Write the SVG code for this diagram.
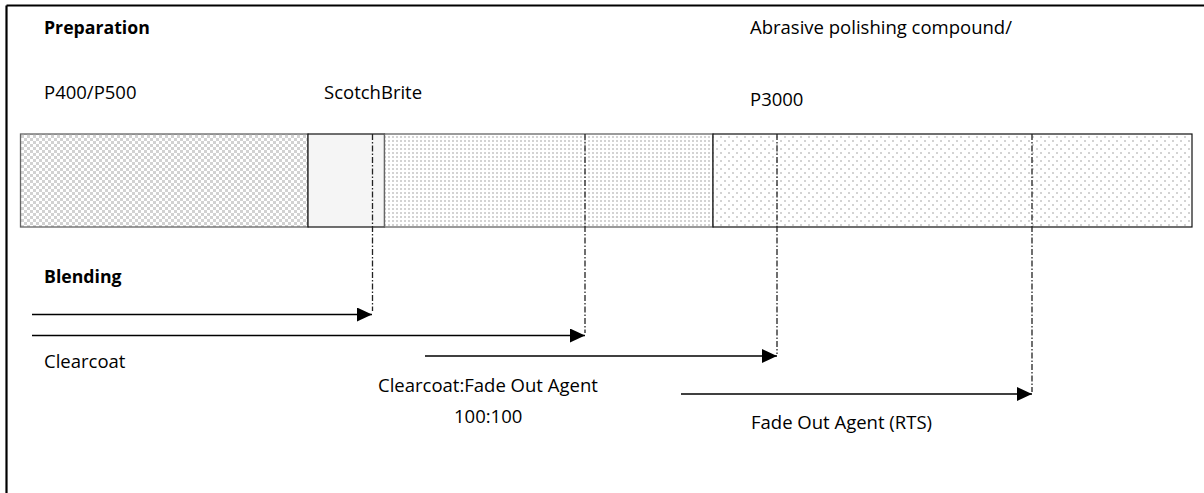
<svg xmlns="http://www.w3.org/2000/svg" width="1204" height="493" viewBox="0 0 1204 493">
<style>
text{font-family:"Open Sans","Liberation Sans",sans-serif;fill:#000}
.r{font-size:18.5px}
.b{font-size:17.7px;font-weight:bold}
.arrow{stroke:#000;stroke-width:1.4;fill:none;marker-end:url(#ah)}
.guide{stroke:#222;stroke-width:1.3;fill:none;stroke-dasharray:6 2 1.5 2}
.seg{stroke:#666;stroke-width:1.3}
.segk{stroke:#111;stroke-width:1.2}
</style>
<defs>
<pattern id="checker" width="6" height="6" patternUnits="userSpaceOnUse">
<rect width="6" height="6" fill="#fff"/>
<rect width="3" height="3" fill="#d2d2d2"/>
<rect x="3" y="3" width="3" height="3" fill="#d2d2d2"/>
</pattern>
<pattern id="dense" width="4" height="4" patternUnits="userSpaceOnUse">
<rect width="4" height="4" fill="#fff"/>
<rect width="2" height="2" fill="#d3d3d3"/>
</pattern>
<pattern id="sparse" width="8" height="8" patternUnits="userSpaceOnUse">
<rect width="8" height="8" fill="#fff"/>
<rect width="2" height="2" fill="#d3d3d3"/>
<rect x="4" y="4" width="2" height="2" fill="#d3d3d3"/>
</pattern>
<marker id="ah" markerUnits="userSpaceOnUse" markerWidth="16" markerHeight="15" refX="15" refY="7" orient="auto">
<path d="M0,0 L15,7 L0,14 z" fill="#000"/>
</marker>
</defs>
<rect width="1204" height="493" fill="#fff"/>
<g id="frame" stroke="#000" stroke-width="2.2">
<line x1="6.5" y1="5.5" x2="1204" y2="5.5"/>
<line x1="6.5" y1="5.5" x2="6.5" y2="493"/>
</g>
<g id="seg-p400">
<rect class="seg" x="20.5" y="134" width="287.5" height="93" fill="url(#checker)"/>
</g>
<g id="seg-scotchbrite">
<rect class="segk" x="308" y="134" width="76.5" height="93" fill="#f5f5f5"/>
</g>
<g id="seg-clear">
<rect class="seg" x="384.5" y="134" width="328.5" height="93" fill="url(#dense)"/>
</g>
<g id="seg-p3000">
<rect class="segk" x="713" y="134" width="479" height="93" fill="url(#sparse)" stroke="#444"/>
</g>
<g id="labels">
<text class="b" x="44" y="34">Preparation</text>
<text class="r" x="44" y="99">P400/P500</text>
<text class="r" x="324" y="99">ScotchBrite</text>
<text class="r" x="750" y="34">Abrasive polishing compound/</text>
<text class="r" x="750" y="106">P3000</text>
<text class="b" x="44" y="283">Blending</text>
<text class="r" x="44" y="368">Clearcoat</text>
<text class="r" x="378" y="392">Clearcoat:Fade Out Agent</text>
<text class="r" x="454" y="423">100:100</text>
<text class="r" x="751" y="429">Fade Out Agent (RTS)</text>
</g>
<g id="connectors">
<line class="guide" x1="372.5" y1="134" x2="372.5" y2="311"/>
<line class="guide" x1="585" y1="134" x2="585" y2="333"/>
<line class="guide" x1="777" y1="134" x2="777" y2="354"/>
<line class="guide" x1="1032" y1="134" x2="1032" y2="392"/>
<line class="arrow" x1="32" y1="314.5" x2="372" y2="314.5"/>
<line class="arrow" x1="32" y1="335.5" x2="585" y2="335.5"/>
<line class="arrow" x1="425" y1="356" x2="777" y2="356"/>
<line class="arrow" x1="681" y1="394" x2="1032" y2="394"/>
</g>
</svg>
